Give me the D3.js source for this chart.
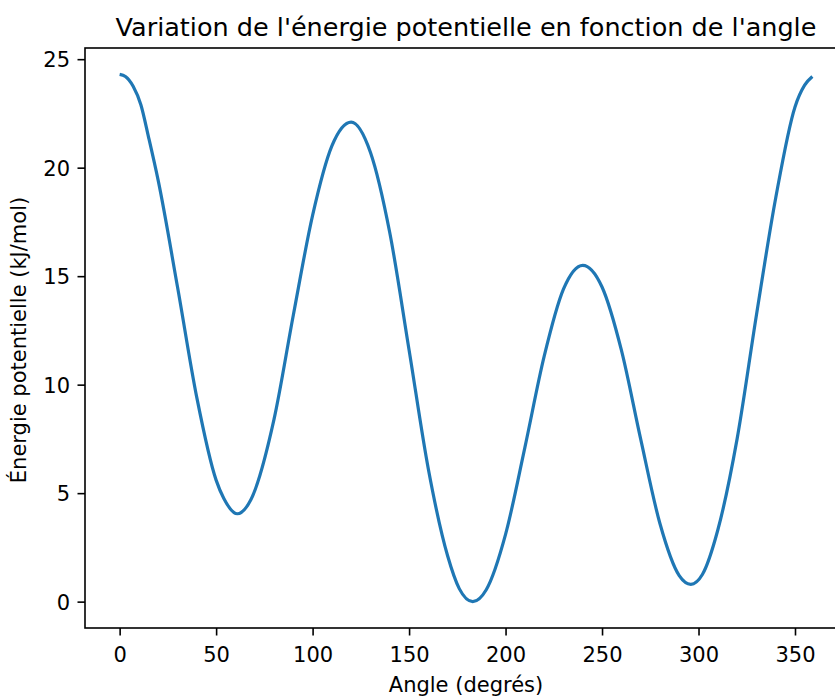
<!DOCTYPE html>
<html>
<head>
<meta charset="utf-8">
<script src="https://cdn.jsdelivr.net/npm/d3@7"></script>
<style>
  body { margin: 0; background: #fff; }
  svg { display: block; font-family: "DejaVu Sans", sans-serif; }
</style>
</head>
<body>
<svg id="chart"></svg>
<script>
// angle (degrees) and potential energy (kJ/mol)
const angles = [0, 3, 7, 11, 15, 20, 30, 40, 50, 54, 61, 68, 80, 90, 100, 110, 120, 130, 140, 150, 160, 170, 176, 183,
                190, 200, 210, 220, 230, 240, 250, 260, 270, 280, 290, 296, 302, 310, 320, 330, 340, 350, 355, 359];
const energies = [24.3, 24.2, 23.75, 22.9, 21.4, 19.4, 14.5, 9.4, 5.6, 4.75, 4.05, 4.7, 8.4, 13.2, 17.8, 21.0, 22.1, 20.7, 17.0, 11.6, 6.1, 2.1, 0.6, 0.0,
                  0.55, 3.1, 7.1, 11.3, 14.4, 15.5, 14.5, 11.6, 7.5, 3.6, 1.2, 0.8, 1.25, 3.3, 7.5, 13.2, 18.6, 22.8, 23.8, 24.2];
const xTicks = [0, 50, 100, 150, 200, 250, 300, 350];
const yTicks = [0, 5, 10, 15, 20, 25];

const titleText = "Variation de l'énergie potentielle en fonction de l'angle";
const xLabel = "Angle (degrés)";
const yLabel = "Énergie potentielle (kJ/mol)";

const width = 835, height = 697;
const axLeft = 85, axTop = 48, axRight = 847, axBottom = 628;

const data = angles.map((a, i) => ({ a: a, e: energies[i] }));

const svg = d3.select("#chart")
    .attr("width", width)
    .attr("height", height);

// matplotlib style 5% margins
const xMin = d3.min(angles), xMax = d3.max(angles);
const yMin = d3.min(energies), yMax = d3.max(energies);
const xPad = (xMax - xMin) * 0.05, yPad = (yMax - yMin) * 0.05;

const x = d3.scaleLinear().domain([xMin - xPad, xMax + xPad]).range([axLeft, axRight]);
const y = d3.scaleLinear().domain([yMin - yPad, yMax + yPad]).range([axBottom, axTop]);

// curve
const line = d3.line()
    .x(d => x(d.a))
    .y(d => y(d.e))
    .curve(d3.curveMonotoneX);

svg.append("path")
    .datum(data)
    .attr("fill", "none")
    .attr("stroke", "#1f77b4")
    .attr("stroke-width", 3.2)
    .attr("stroke-linecap", "butt")
    .attr("stroke-linejoin", "round")
    .attr("d", line);

// axes
const xAxis = svg.append("g")
    .attr("transform", `translate(0,${axBottom})`)
    .call(d3.axisBottom(x).tickValues(xTicks).tickSize(7.5).tickPadding(6.5).tickFormat(d3.format("d")));

const yAxis = svg.append("g")
    .attr("transform", `translate(${axLeft},0)`)
    .call(d3.axisLeft(y).tickValues(yTicks).tickSize(7.5).tickPadding(7.5).tickFormat(d3.format("d")));

[xAxis, yAxis].forEach(g => {
    g.select(".domain").remove();
    g.selectAll(".tick line").attr("stroke", "#000").attr("stroke-width", 1.6);
    g.selectAll(".tick text")
        .attr("fill", "#000")
        .style("font-size", "21px")
        .style("font-family", "DejaVu Sans, sans-serif");
});
xAxis.selectAll(".tick text").attr("dy", "0.95em");
yAxis.selectAll(".tick text").attr("dy", "0.36em");

// frame (spines)
svg.append("rect")
    .attr("x", axLeft)
    .attr("y", axTop)
    .attr("width", axRight - axLeft)
    .attr("height", axBottom - axTop)
    .attr("fill", "none")
    .attr("stroke", "#000")
    .attr("stroke-width", 1.6);

// title and labels
svg.append("text")
    .attr("x", (axLeft + axRight) / 2)
    .attr("y", 36)
    .attr("text-anchor", "middle")
    .style("font-size", "25.5px")
    .text(titleText);

svg.append("text")
    .attr("x", (axLeft + axRight) / 2)
    .attr("y", 692)
    .attr("text-anchor", "middle")
    .style("font-size", "21px")
    .text(xLabel);

svg.append("text")
    .attr("transform", `translate(26,${(axTop + axBottom) / 2 + 2}) rotate(-90)`)
    .attr("text-anchor", "middle")
    .style("font-size", "21px")
    .text(yLabel);
</script>
</body>
</html>
